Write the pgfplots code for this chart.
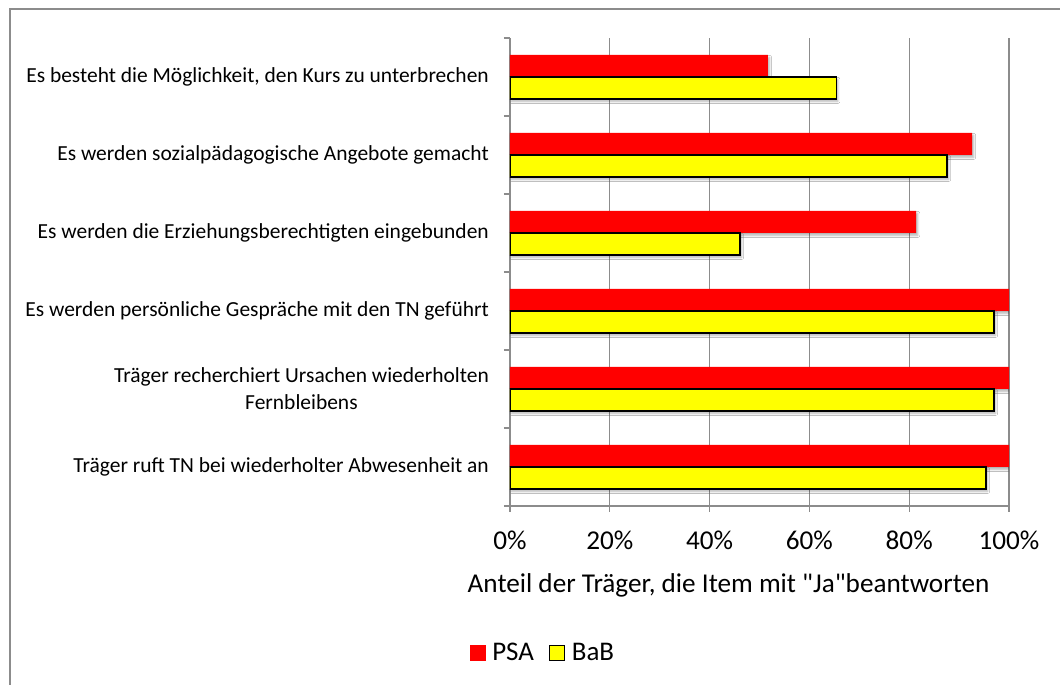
\documentclass[border=0pt]{standalone}
\usepackage{pgfplots}
\pgfplotsset{compat=1.18}
\usetikzlibrary{shadows.blur}
\usepackage{fontspec}
\setmainfont{Carlito}
\newfontfamily\qf{Carlito}
\definecolor{axgray}{RGB}{140,140,140}
\definecolor{psared}{RGB}{255,0,0}
\definecolor{babyellow}{RGB}{255,255,0}
\begin{document}
\begin{tikzpicture}
\useasboundingbox (0,0) rectangle (795pt,513.75pt);
\fill[white] (0,0) rectangle (795pt,513.75pt);
\draw[axgray, line width=1.5pt] (7.5pt,0) -- (7.5pt,507pt) -- (796pt,507pt);
\begin{axis}[
  at={(382.5pt,134.25pt)}, anchor=south west,
  scale only axis, width=374.25pt, height=351pt,
  xbar, bar width=16.5pt,
  xmin=0, xmax=100, ymin=-0.5, ymax=5.5,
  axis x line=bottom, axis y line=left,
  axis line style={-, axgray, line width=1pt},
  xtick={0,20,40,60,80,100},
  xticklabels={0\%,20\%,40\%,60\%,80\%,100\%},
  xmajorgrids, grid style={axgray, line width=1pt},
  ytick={0,1,2,3,4,5},
  yticklabels={Träger ruft TN bei wiederholter Abwesenheit an,
    Träger recherchiert Ursachen wiederholten\\Fernbleibens,
    Es werden persönliche Gespräche mit den TN geführt,
    Es werden die Erziehungsberechtigten eingebunden,
    Es werden sozialpädagogische Angebote gemacht,
    {Es besteht die Möglichkeit, den Kurs zu unterbrechen}},
  minor ytick={-0.5,0.5,1.5,2.5,3.5,4.5,5.5},
  tick align=outside, tick pos=left,
  major tick length=4.5pt, minor tick length=4.5pt,
  major y tick style={draw=none},
  minor y tick style={axgray, line width=1pt},
  major x tick style={axgray, line width=1pt},
  yticklabel style={font=\fontsize{16.1}{20.3}\selectfont, align=center, anchor=east, inner sep=0pt, xshift=-11.25pt},
  xticklabel style={font=\fontsize{20.4}{24}\selectfont, anchor=center, inner sep=0pt, yshift=-21.25pt},
  xlabel={Anteil der Träger, die Item mit {\qf"}Ja{\qf"}beantworten},
  xlabel style={at={(axis description cs:0.438,-0.1688)}, anchor=center, font=\fontsize{20.4}{24}\selectfont},
  legend style={at={(axis description cs:0.066,-0.314)}, anchor=center, draw=none, fill=none,
    legend columns=2, font=\fontsize{20.2}{24}\selectfont,
    /tikz/every odd column/.append style={column sep=3.75pt},
    /tikz/every even column/.append style={column sep=9.5pt},
    nodes={inner sep=1.5pt}},
]
\addplot[forget plot, fill=psared, draw=none, bar shift=8.25pt,
  blur shadow={shadow xshift=1.2pt, shadow yshift=-1.8pt, shadow blur steps=6, shadow blur radius=1.5pt, shadow opacity=30}]
  coordinates {(100,0) (100,1) (100,2) (81.4,3) (92.6,4) (51.7,5)};
\addplot[forget plot, fill=babyellow, draw=black, line width=1pt, bar shift=-8.25pt,
  blur shadow={shadow xshift=1.2pt, shadow yshift=-1.8pt, shadow blur steps=6, shadow blur radius=1.5pt, shadow opacity=30}]
  coordinates {(95.4,0) (97.0,1) (97.0,2) (46.1,3) (87.6,4) (65.4,5)};
\addlegendimage{legend image code/.code={\fill[psared] (0pt,-5.6pt) rectangle (11.25pt,5.6pt);}}
\addlegendentry{PSA}
\addlegendimage{legend image code/.code={\draw[black, fill=babyellow, line width=1pt] (0pt,-5.6pt) rectangle (11.25pt,5.6pt);}}
\addlegendentry{BaB}
\end{axis}
\end{tikzpicture}
\end{document}
